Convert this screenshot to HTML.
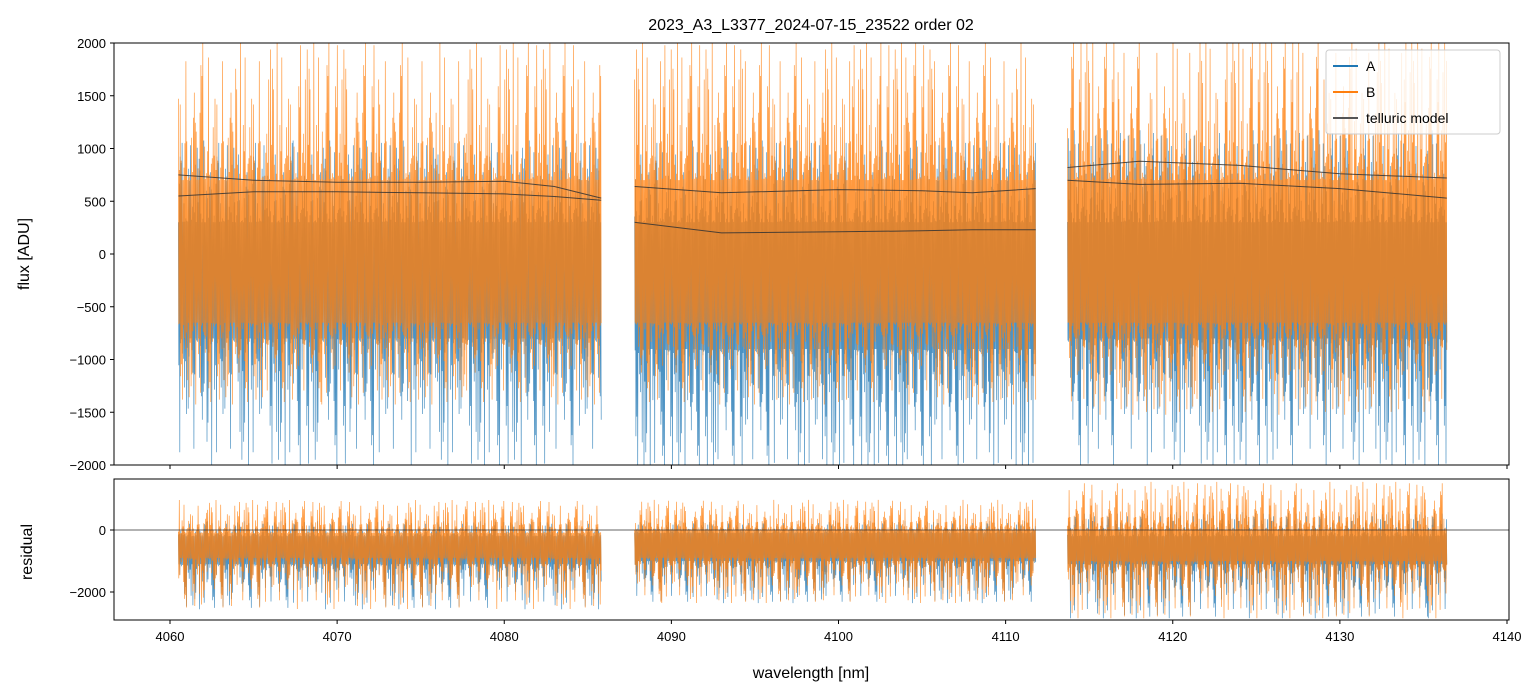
<!DOCTYPE html>
<html><head><meta charset="utf-8">
<style>
html,body{margin:0;padding:0;background:#fff;}
svg{display:block;font-family:"Liberation Sans","DejaVu Sans",sans-serif;}
</style></head>
<body>
<svg id="chart" width="1540" height="696" viewBox="0 0 1540 696">
<defs>
<clipPath id="clipTop"><rect x="114" y="43" width="1395" height="422"/></clipPath>
<clipPath id="clipBot"><rect x="114" y="479" width="1395" height="141"/></clipPath>
</defs>
<text x="811" y="30" text-anchor="middle" font-size="16" fill="#000">2023_A3_L3377_2024-07-15_23522  order 02</text>
<g id="topData" clip-path="url(#clipTop)"></g>
<g id="botData" clip-path="url(#clipBot)"></g>
<rect x="114" y="43" width="1395" height="422" fill="none" stroke="#000" stroke-width="1"/>
<rect x="114" y="479" width="1395" height="141" fill="none" stroke="#000" stroke-width="1"/>
<g id="ticks"></g>
<text x="811" y="678" text-anchor="middle" font-size="16">wavelength [nm]</text>
<text transform="translate(29,254) rotate(-90)" text-anchor="middle" font-size="16">flux [ADU]</text>
<text transform="translate(32,552) rotate(-90)" text-anchor="middle" font-size="16">residual</text>
<g>
<rect x="1326" y="50" width="174" height="84" rx="3" fill="#fff" fill-opacity="0.8" stroke="#ccc" stroke-width="1"/>
<line x1="1333" y1="66" x2="1358" y2="66" stroke="#1f77b4" stroke-width="2"/>
<text x="1366" y="71" font-size="14">A</text>
<line x1="1333" y1="92" x2="1358" y2="92" stroke="#ff7f0e" stroke-width="2"/>
<text x="1366" y="97" font-size="14">B</text>
<line x1="1333" y1="118" x2="1358" y2="118" stroke="#555" stroke-width="2"/>
<text x="1366" y="123" font-size="14">telluric model</text>
</g>
</svg>
<script>
const segStart = [4060.5, 4087.8, 4113.7];
const segEnd = [4085.8, 4111.8, 4136.4];
const noiseProfile = [0.82,0.35,0.97,0.12,0.64,0.48,0.91,0.27,0.73,0.05,0.58,0.88,0.19,0.66,0.41,0.99,0.31,0.77,0.09,0.53,0.85,0.22,0.69,0.44,0.94,0.16,0.61,0.38,0.80,0.03,0.57,0.92,0.25,0.71,0.47,0.86,0.14,0.63,0.33,0.96,0.21,0.75,0.51,0.08,0.68,0.89,0.29,0.55,0.11,0.79,0.43,0.93,0.18,0.62,0.36,0.84,0.06,0.72,0.49,0.98,0.02];
const fluxBUp = [[700,1400],[700,1400],[700,1500]];
const fluxBDown = [[-650,-800],[-650,-800],[-650,-900]];
const fluxAUp = [[300,800],[300,800],[300,900]];
const fluxADown = [[-800,-1300],[-900,-1300],[-800,-1300]];
const resBUp = [[-100,1100],[0,1000],[0,1600]];
const resBDown = [[-900,-1700],[-900,-1500],[-1000,-1900]];
const resAUp = [[-200,500],[-100,400],[-200,800]];
const resADown = [[-1100,-1500],[-1000,-1400],[-1100,-1800]];
const tellWl = [[4060.5,4065,4070,4075,4080,4083,4085.8],[4087.8,4093,4100,4105,4108,4111.8],[4113.7,4118,4124,4130,4136.4]];
const tellUpper = [[750,700,680,680,690,640,530],[640,580,610,600,580,620],[820,880,840,760,720]];
const tellLower = [[550,590,590,580,570,545,510],[300,200,210,220,230,230],[700,660,670,620,530]];
const xTicks = [4060,4070,4080,4090,4100,4110,4120,4130,4140];
const yTicksTop = [-2000,-1500,-1000,-500,0,500,1000,1500,2000];
const yTicksBot = [-2000,0];

const NS="http://www.w3.org/2000/svg";
const X = w => 170 + (w-4060)*(1337/80);
const YT = v => 254 - v*0.1055;
const YB = v => 530 - v*0.031;
function mk(tag, attrs, parent){const e=document.createElementNS(NS,tag);for(const k in attrs)e.setAttribute(k,attrs[k]);parent.appendChild(e);return e;}
const gTop=document.getElementById('topData'), gBot=document.getElementById('botData'), tk=document.getElementById('ticks');

function noiseLine(parent, Y, s, up, down, color, off, name){
  const n=900, a=segStart[s], b=segEnd[s]; let pts=[];
  for(let k=0;k<n;k++){
    const w=a+(b-a)*k/(n-1);
    const p=noiseProfile[(k*7+s*11+off+Math.floor(k/61)*3)%noiseProfile.length];
    const v = (k%2===0) ? up[s][0]+up[s][1]*p*p*p : down[s][0]+down[s][1]*p*p*p;
    pts.push(X(w).toFixed(1)+','+Y(v).toFixed(1));
  }
  const el=mk('polyline',{points:pts.join(' '),fill:'none',stroke:color,'stroke-width':0.7,'stroke-opacity':0.8},parent);
  
  
}
for(let s=0;s<3;s++){
  noiseLine(gTop,YT,s,fluxAUp,fluxADown,'#1f77b4',3,'series-a-flux-seg'+s);
  noiseLine(gTop,YT,s,fluxBUp,fluxBDown,'#ff7f0e',0,'series-b-flux-seg'+s);
  noiseLine(gBot,YB,s,resAUp,resADown,'#1f77b4',5,'series-a-residual-seg'+s);
  noiseLine(gBot,YB,s,resBUp,resBDown,'#ff7f0e',1,'series-b-residual-seg'+s);
}
for(let s=0;s<3;s++){
  [tellUpper,tellLower].forEach((arr,j)=>{
    const pts=tellWl[s].map((w,i)=>X(w).toFixed(1)+','+YT(arr[s][i]).toFixed(1)).join(' ');
    const el=mk('polyline',{points:pts,fill:'none',stroke:'#333','stroke-width':1,'stroke-opacity':0.85},gTop);
    
    
  });
}
const zl=mk('line',{x1:114,x2:1509,y1:YB(0),y2:YB(0),stroke:'#333','stroke-width':0.7},gBot);



xTicks.forEach(t=>{
  const x=X(t);
  mk('line',{x1:x,x2:x,y1:465,y2:469,stroke:'#000'},tk);
  mk('line',{x1:x,x2:x,y1:620,y2:624,stroke:'#000'},tk);
  const el=mk('text',{x:x,y:641,'text-anchor':'middle','font-size':13},tk);
  el.textContent=t;
  
  
});
yTicksTop.forEach(t=>{
  const y=YT(t);
  mk('line',{x1:110,x2:114,y1:y,y2:y,stroke:'#000'},tk);
  const el=mk('text',{x:106,y:y+5,'text-anchor':'end','font-size':13},tk);
  el.textContent=t<0?'\u2212'+(-t):t;
  
  
});
yTicksBot.forEach(t=>{
  const y=YB(t);
  mk('line',{x1:110,x2:114,y1:y,y2:y,stroke:'#000'},tk);
  const el=mk('text',{x:106,y:y+5,'text-anchor':'end','font-size':13},tk);
  el.textContent=t<0?'\u2212'+(-t):t;
  
  
});
</script>
</body></html>
